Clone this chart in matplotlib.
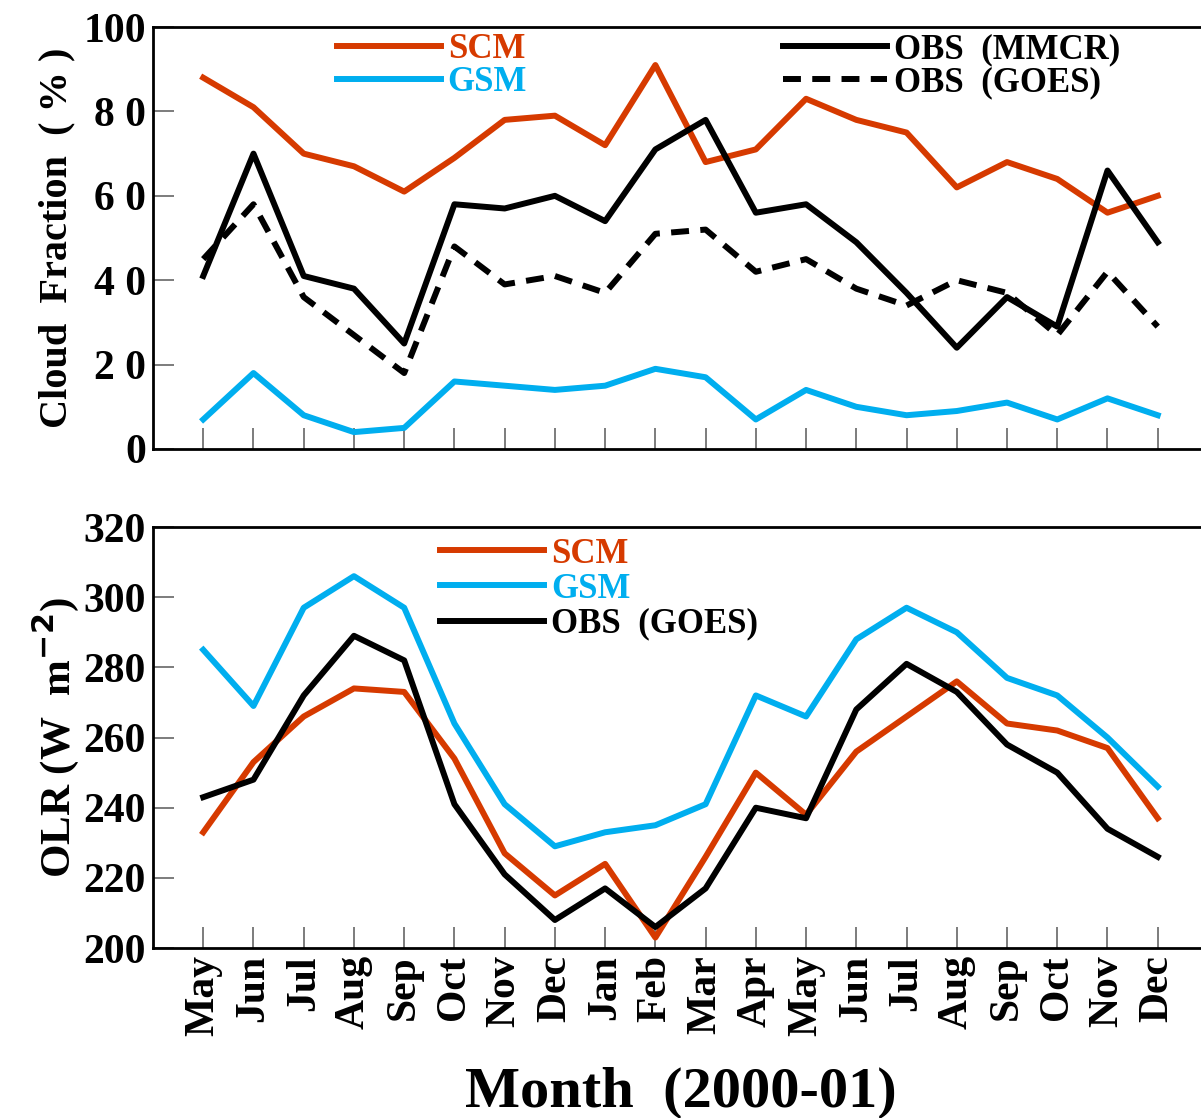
import numpy as np
import matplotlib
matplotlib.use('Agg')
import matplotlib.pyplot as plt

# months May 2000 .. Dec 2001
months=['May','Jun','Jul','Aug','Sep','Oct','Nov','Dec','Jan','Feb','Mar',
        'Apr','May','Jun','Jul','Aug','Sep','Oct','Nov','Dec']

# cloud fraction (%)
cf_scm=[88,81,70,67,61,69,78,79,72,91,68,71,83,78,75,62,68,64,56,60]
cf_gsm=[7,18,8,4,5,16,15,14,15,19,17,7,14,10,8,9,11,7,12,8]
cf_mmcr=[41,70,41,38,25,58,57,60,54,71,78,56,58,49,37,24,36,29,66,49]
cf_goes=[45,58,36,27,18,48,39,41,37,51,52,42,45,38,34,40,37,27,42,29]

# OLR (W m-2)
olr_scm=[233,253,266,274,273,254,227,215,224,203,226,250,238,256,266,276,264,262,257,237]
olr_gsm=[285,269,297,306,297,264,241,229,233,235,241,272,266,288,297,290,277,272,260,246]
olr_goes=[243,248,272,289,282,241,221,208,217,206,217,240,237,268,281,273,258,250,234,226]

cf_ticks=[0,20,40,60,80,100]
cf_ticklabels=['0','2 0','4 0','6 0','8 0','100']
olr_ticks=[200,220,240,260,280,300,320]
olr_ticklabels=['200','220','240','260','280','300','320']

red='#D63A00'
blue='#00AEEF'
lw=4.3

plt.rcParams['font.family']=['Liberation Serif','DejaVu Serif']
plt.rcParams['font.weight']='bold'

fig=plt.figure(figsize=(12.01,11.18),dpi=100)
x=np.arange(len(months))

def style(ax,yt,ytl,ylim):
    ax.set_xlim(-1,20)
    ax.set_ylim(*ylim)
    ax.set_xticks(x)
    ax.set_yticks(yt)
    ax.set_yticklabels(ytl,fontsize=30,fontweight='bold')
    ax.tick_params(direction='in',length=15,width=1.2,color='#666666',pad=5)
    for s in ['left','bottom','top','right']:
        ax.spines[s].set_linewidth(2.0)

legkw=dict(loc='upper left',frameon=False,fontsize=25,handlelength=3.0,
           handletextpad=0.2,borderpad=0,borderaxespad=0)

ax1=fig.add_axes([0.1274,0.5984,0.8784,0.3774])
l1,=ax1.plot(x,cf_scm,color=red,lw=lw,label='SCM')
l2,=ax1.plot(x,cf_gsm,color=blue,lw=lw,label='GSM')
l3,=ax1.plot(x,cf_mmcr,color='black',lw=lw,label='OBS  (MMCR)')
l4,=ax1.plot(x,cf_goes,color='black',lw=lw,ls=(0,(3.0,1.9)),label='OBS  (GOES)')
style(ax1,cf_ticks,cf_ticklabels,(0,100))
ax1.set_xticklabels([])
ax1.set_ylabel('Cloud  Fraction  ( % )',fontsize=29,fontweight='bold',labelpad=6)

leg1=ax1.legend(handles=[l1,l2],bbox_to_anchor=(0.174,0.985),labelcolor='linecolor',
                labelspacing=0.0,**legkw)
ax1.add_artist(leg1)
ax1.legend(handles=[l3,l4],bbox_to_anchor=(0.597,0.985),labelspacing=0.0,**legkw)

ax2=fig.add_axes([0.1274,0.1520,0.8784,0.3766])
m1,=ax2.plot(x,olr_scm,color=red,lw=lw,label='SCM')
m2,=ax2.plot(x,olr_gsm,color=blue,lw=lw,label='GSM')
m3,=ax2.plot(x,olr_goes,color='black',lw=lw,label='OBS  (GOES)')
style(ax2,olr_ticks,olr_ticklabels,(200,320))
ax2.set_xticklabels(months,rotation=90,fontsize=30,fontweight='bold')
ax2.set_ylabel('OLR (W  m$^{\\mathbf{-2}}$)',fontsize=31,fontweight='bold',labelpad=2)
ax2.set_xlabel('Month  (2000-01)',fontsize=42,fontweight='bold',labelpad=22)
ax2.legend(handles=[m1,m2,m3],bbox_to_anchor=(0.272,0.975),labelcolor='linecolor',
           labelspacing=0.06,**legkw)

fig.savefig('out.png',dpi=100)
